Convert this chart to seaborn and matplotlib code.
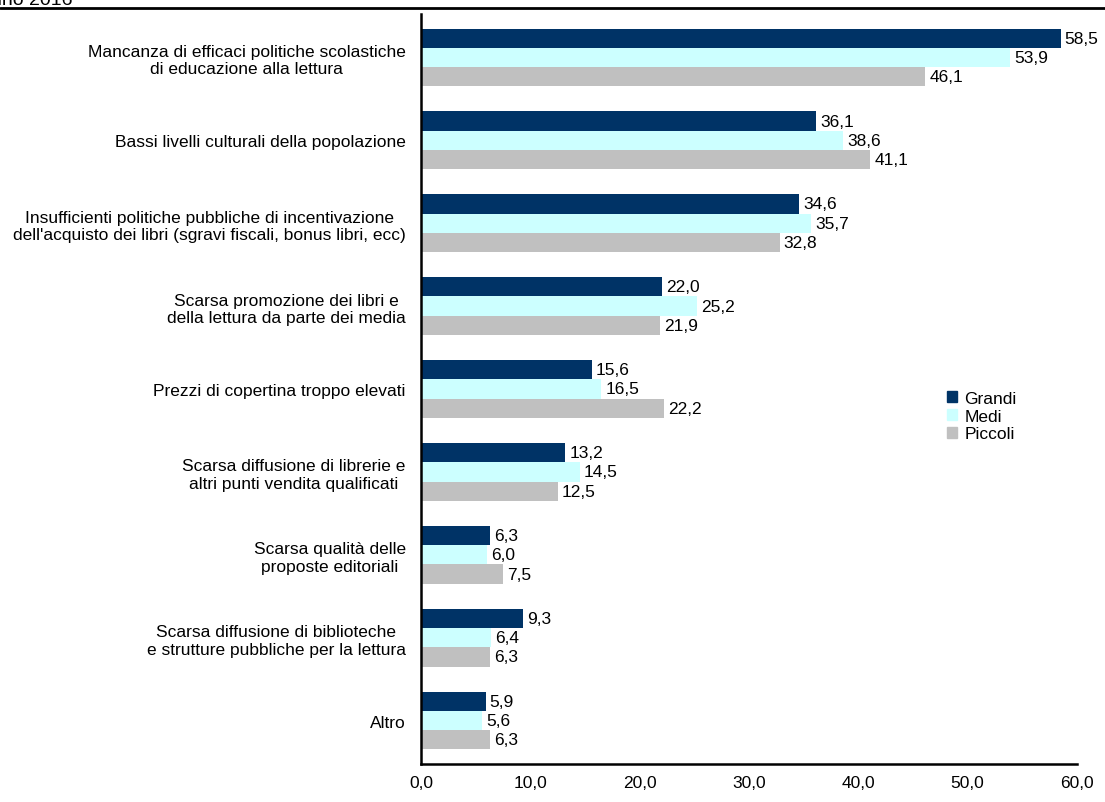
import matplotlib
matplotlib.use("Agg")
import matplotlib.pyplot as plt
import matplotlib.font_manager as fm
import seaborn as sns
import pandas as pd
from matplotlib.lines import Line2D

categories = [
    "Mancanza di efficaci politiche scolastiche\ndi educazione alla lettura",
    "Bassi livelli culturali della popolazione",
    "Insufficienti politiche pubbliche di incentivazione\ndell'acquisto dei libri (sgravi fiscali, bonus libri, ecc)",
    "Scarsa promozione dei libri e\ndella lettura da parte dei media",
    "Prezzi di copertina troppo elevati",
    "Scarsa diffusione di librerie e\naltri punti vendita qualificati",
    "Scarsa qualità delle\nproposte editoriali",
    "Scarsa diffusione di biblioteche\ne strutture pubbliche per la lettura",
    "Altro",
]
series_names = ["Grandi", "Medi", "Piccoli"]
grandi = [58.5, 36.1, 34.6, 22.0, 15.6, 13.2, 6.3, 9.3, 5.9]
medi = [53.9, 38.6, 35.7, 25.2, 16.5, 14.5, 6.0, 6.4, 5.6]
piccoli = [46.1, 41.1, 32.8, 21.9, 22.2, 12.5, 7.5, 6.3, 6.3]
xticks = [0, 10, 20, 30, 40, 50, 60]
colors = ["#003366", "#CCFFFF", "#C0C0C0"]

sns.set_theme(style="white")
avail = {f.name for f in fm.fontManager.ttflist}
fam = "Liberation Sans Narrow" if "Liberation Sans Narrow" in avail else "Liberation Sans"
plt.rcParams["font.family"] = [fam, "DejaVu Sans"]
plt.rcParams["text.color"] = "black"
plt.rcParams["xtick.color"] = "black"
plt.rcParams["ytick.color"] = "black"

rows = []
for name, vals in zip(series_names, [grandi, medi, piccoli]):
    for c, v in zip(categories, vals):
        rows.append({"cat": c, "serie": name, "val": v})
df = pd.DataFrame(rows)

fig = plt.figure(figsize=(11.05, 8.03), dpi=100)
ax = fig.add_axes([421 / 1105, 1 - 765 / 803, (1077 - 421) / 1105, (765 - 15) / 803])

sns.barplot(data=df, y="cat", x="val", hue="serie", order=categories,
            hue_order=series_names, palette=colors, orient="h", width=0.69,
            saturation=1, ax=ax, legend=False, edgecolor="none")

for cont in ax.containers:
    labels = [f"{v:.1f}".replace(".", ",") for v in cont.datavalues]
    ax.bar_label(cont, labels=labels, padding=3, fontsize=12.5, color="black")

ax.set_xlim(0, 60)
ax.set_ylim(8.52, -0.52)
ax.set_xticks(xticks)
ax.set_xticklabels([f"{t:.1f}".replace(".", ",") for t in xticks], fontsize=12.5)
ax.tick_params(axis="x", length=0, pad=8, colors="black")
ax.tick_params(axis="y", length=0, pad=11, colors="black")
for lab in ax.get_yticklabels():
    lab.set_fontsize(12.5)
    lab.set_multialignment("center")
    lab.set_color("black")
ax.set_xlabel("")
ax.set_ylabel("")
for s in ["top", "right"]:
    ax.spines[s].set_visible(False)
for s in ["left", "bottom"]:
    ax.spines[s].set_color("black")
    ax.spines[s].set_linewidth(1.8)

handles = [plt.Rectangle((0, 0), 1, 1, color=c) for c in colors]
leg = ax.legend(handles, series_names, loc="upper left",
                bbox_to_anchor=((940 - 421) / (1077 - 421), 1 - (385 - 15) / 750),
                frameon=False, fontsize=12.5, handlelength=0.6, handleheight=0.6,
                handletextpad=0.4, labelspacing=0.15, borderaxespad=0)
for t in leg.get_texts():
    t.set_color("black")

fig.add_artist(Line2D([0, 1], [1 - 9 / 803, 1 - 9 / 803], color="black", lw=2,
                      transform=fig.transFigure))
fig.text(72 / 1105, 1 - 5 / 803, "Anno 2016", ha="right", va="baseline", fontsize=14)

fig.savefig("out.png", dpi=100)
